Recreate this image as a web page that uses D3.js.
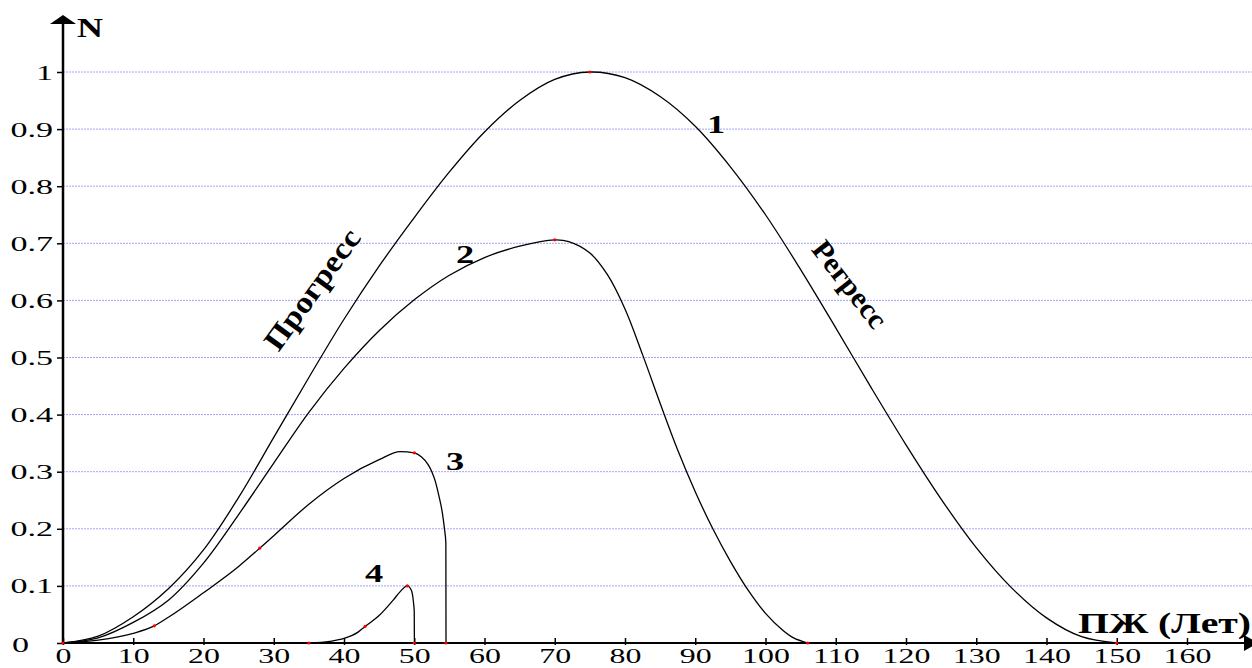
<!DOCTYPE html>
<html>
<head>
<meta charset="utf-8">
<script src="https://cdn.jsdelivr.net/npm/d3@7"></script>
<style>
  body { margin: 0; background: #fff; }
  svg { display: block; }
  text { font-family: "Liberation Serif", "Times New Roman", serif; fill: #000; }
</style>
</head>
<body>
<svg id="chart" width="1252" height="668"></svg>
<script>
// --- data ---
const xTicks = [0, 10, 20, 30, 40, 50, 60, 70, 80, 90, 100, 110, 120, 130, 140, 150, 160];
const yTicks = [0, 0.1, 0.2, 0.3, 0.4, 0.5, 0.6, 0.7, 0.8, 0.9, 1];

const curve1X = [0, 5, 10, 15, 20, 25, 30, 35, 40, 45, 50, 55, 60, 65, 70, 75,
                 80, 85, 90, 95, 100, 105, 110, 115, 120, 125, 130, 135, 140, 145, 150];
const curve1N = [0, 0.012, 0.046, 0.095, 0.163, 0.255, 0.36, 0.465, 0.567, 0.66, 0.745, 0.825, 0.895, 0.95, 0.987, 1,
                 0.99, 0.957, 0.905, 0.834, 0.75, 0.654, 0.552, 0.448, 0.347, 0.252, 0.167, 0.097, 0.044, 0.011, 0];

const curve2X = [0, 5, 10, 15, 20, 25, 30, 35, 40, 45, 50, 55, 60, 65, 70, 72, 75, 77.5,
                 80, 82.5, 85, 87.5, 90, 92.5, 95, 97.5, 100, 102.5, 104, 106];
const curve2N = [0, 0.009, 0.036, 0.075, 0.14, 0.225, 0.315, 0.404, 0.481, 0.547, 0.601, 0.644, 0.675, 0.695, 0.706, 0.703, 0.683, 0.645,
                 0.585, 0.505, 0.42, 0.338, 0.265, 0.2, 0.143, 0.093, 0.052, 0.022, 0.009, 0];

const curve3X = [0, 5, 10, 13, 15, 20, 25, 28, 30, 35, 40, 45, 48, 50, 51, 52, 52.5, 53, 53.5, 54, 54.3, 54.5, 54.52];
const curve3N = [0, 0.005, 0.017, 0.03, 0.045, 0.088, 0.134, 0.166, 0.188, 0.243, 0.288, 0.321, 0.335, 0.333, 0.326, 0.312, 0.3, 0.283, 0.258, 0.228, 0.2, 0.175, 0];

const curve4X = [35, 38, 40, 42, 43, 45, 47, 48, 49, 49.6, 49.9, 50, 50.02];
const curve4N = [0, 0.003, 0.008, 0.019, 0.029, 0.048, 0.075, 0.09, 0.1, 0.092, 0.07, 0.055, 0];

const dotsX = [0, 75, 150, 70, 106, 13, 28, 50, 54.5, 35, 43, 49, 50];
const dotsN = [0, 1, 0, 0.706, 0, 0.03, 0.166, 0.333, 0, 0, 0.029, 0.1, 0];

const curveNames = ["1", "2", "3", "4"];

// --- setup ---
const svg = d3.select("#chart");
const W = 1252;

const x = d3.scaleLinear().domain([0, 160]).range([63, 1187]);
const y = d3.scaleLinear().domain([0, 1]).range([643, 72]);

// grid lines
svg.append("g")
    .selectAll("line")
    .data(yTicks.filter(d => d > 0))
    .enter().append("line")
    .attr("x1", x(0)).attr("x2", W)
    .attr("y1", d => y(d)).attr("y2", d => y(d))
    .attr("stroke", "#a4a4f4")
    .attr("stroke-width", 1)
    .attr("stroke-dasharray", "2,1");

// curves: smooth ones through catmull-rom, the ones with a sharp drop monotone
let smooth = d3.line()
    .x(d => x(d[0]))
    .y(d => y(d[1]))
    .curve(d3.curveCatmullRom.alpha(0.5));
let sharp = d3.line()
    .x(d => x(d[0]))
    .y(d => y(d[1]))
    .curve(d3.curveMonotoneX);

let curves = [
    {pts: d3.zip(curve1X, curve1N), gen: smooth},
    {pts: d3.zip(curve2X, curve2N), gen: smooth},
    {pts: d3.zip(curve3X, curve3N), gen: sharp},
    {pts: d3.zip(curve4X, curve4N), gen: sharp}
];

svg.append("g")
    .selectAll("path")
    .data(curves)
    .enter().append("path")
    .attr("d", d => d.gen(d.pts))
    .attr("fill", "none")
    .attr("stroke", "#000")
    .attr("stroke-width", 1.3);

// axes
let xAxis = d3.axisBottom(x)
    .tickValues(xTicks)
    .tickSizeInner(-5)
    .tickSizeOuter(0)
    .tickFormat(d3.format("d"));

let gx = svg.append("g")
    .attr("transform", `translate(0,${y(0)})`)
    .call(xAxis);
gx.select(".domain").remove();
gx.selectAll(".tick line").attr("y1", 2).attr("y2", -5).attr("stroke-width", 1.5);
gx.selectAll(".tick text")
    .attr("y", 20).attr("dy", 0)
    .attr("transform", "scale(1.45,1)")
    .style("font-size", "22px");

let yAxis = d3.axisLeft(y)
    .tickValues(yTicks)
    .tickSize(6)
    .tickFormat(d => d === 0 ? "0" : d === 1 ? "1" : d.toFixed(1));

let gy = svg.append("g")
    .attr("transform", `translate(${x(0)},0)`)
    .call(yAxis);
gy.select(".domain").remove();
gy.selectAll(".tick line").attr("stroke-width", 1.5);
gy.selectAll(".tick text")
    .attr("x", -10 / 1.55)
    .attr("transform", "scale(1.55,1)")
    .style("font-size", "22px");
gy.selectAll(".tick text")
    .filter(d => d === 0)
    .attr("text-anchor", "start")
    .attr("x", (12 - 63) / 1.55)
    .attr("dy", "0.38em");

// axis lines and arrows
svg.append("line")
    .attr("x1", x(0)).attr("x2", 1246)
    .attr("y1", y(0)).attr("y2", y(0))
    .attr("stroke", "#000").attr("stroke-width", 2);
svg.append("line")
    .attr("x1", x(0)).attr("x2", x(0))
    .attr("y1", y(0)).attr("y2", 22)
    .attr("stroke", "#000").attr("stroke-width", 2.5);
svg.append("path")
    .attr("d", `M${x(0)},15 L${x(0) + 13},24 L${x(0) - 13},24 Z`)
    .attr("fill", "#000");
svg.append("path")
    .attr("d", `M1258,${y(0)} L1244,${y(0) - 8} L1244,${y(0) + 8} Z`)
    .attr("fill", "#000");

// red points
svg.append("g")
    .selectAll("circle")
    .data(d3.zip(dotsX, dotsN))
    .enter().append("circle")
    .attr("cx", d => x(d[0]))
    .attr("cy", d => y(d[1]))
    .attr("r", 1.6)
    .attr("fill", "#ff0000");

// texts
function label(t, tx, ty, size, opts = {}) {
    let el = svg.append("text")
        .attr("transform", `translate(${tx},${ty}) rotate(${opts.rotate || 0}) scale(${opts.sx || 1},1)`)
        .attr("text-anchor", opts.anchor || "middle")
        .style("font-size", size + "px")
        .style("font-weight", "bold")
        .text(t);
    if (opts.dy) el.attr("dy", opts.dy);
    if (opts.length) el.attr("textLength", opts.length).attr("lengthAdjust", "spacingAndGlyphs");
    return el;
}

label("N", 77, 37, 27, {anchor: "start", length: 26});
label("ПЖ (Лет)", 1078, 633, 30, {anchor: "start", length: 173});

let namePos = [[716, 133], [465, 263], [455, 470], [374, 582]];
curveNames.forEach((n, i) => label(n, namePos[i][0], namePos[i][1], 26, {sx: 1.4}));

label("Прогресс", 313, 290, 30, {rotate: -54, dy: "0.3em", length: 142});
label("Регресс", 849, 285, 29, {rotate: 52, dy: "0.3em", length: 103});
</script>
</body>
</html>
